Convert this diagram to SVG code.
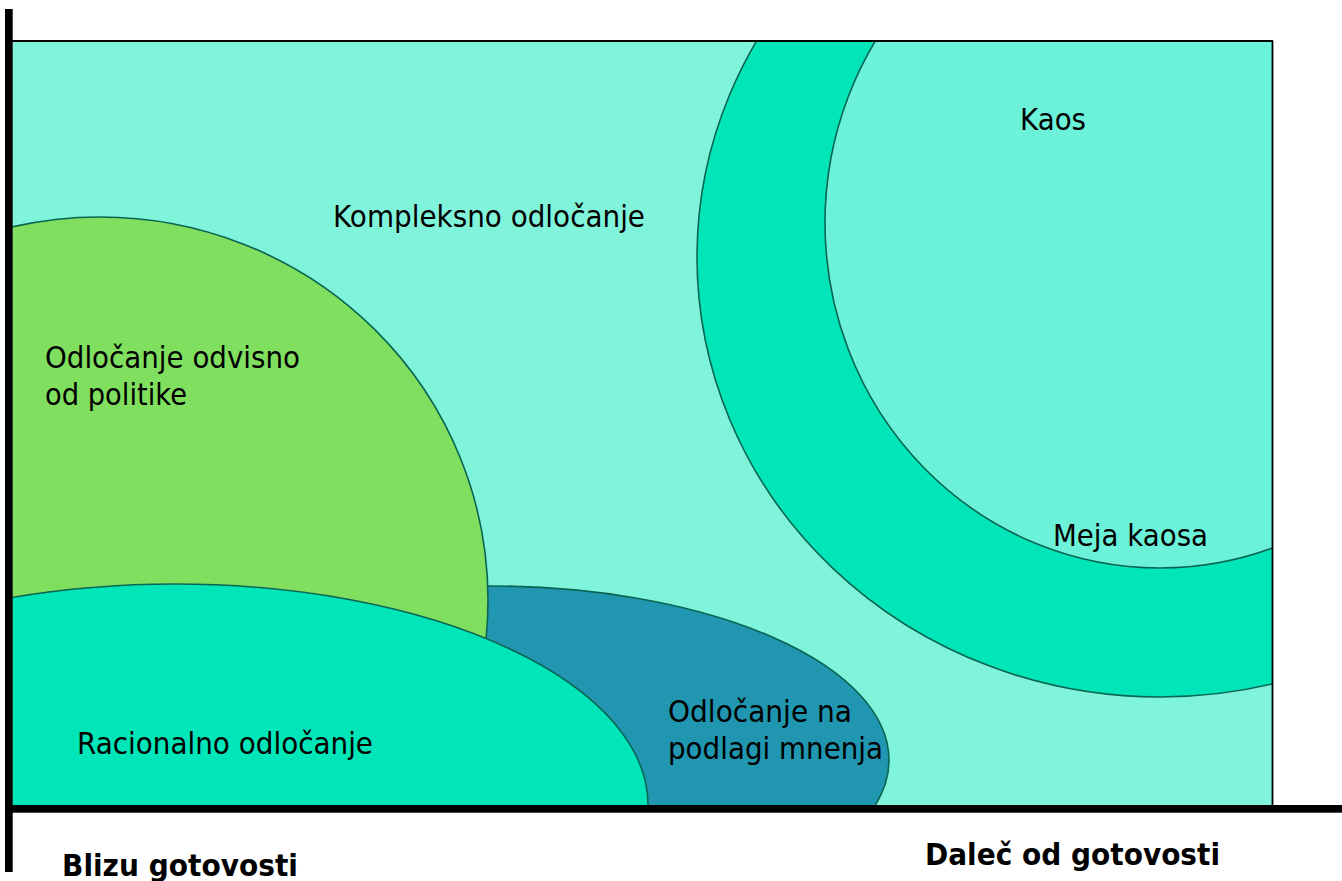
<svg xmlns="http://www.w3.org/2000/svg" width="1342" height="881" viewBox="0 0 1342 881">
<style>
.shape{stroke:#096552;stroke-width:1.6}
.lbl{font-family:"DejaVu Sans",Verdana,sans-serif;font-size:31px;fill:#000}
.axis{font-family:"DejaVu Sans",Verdana,sans-serif;font-size:30px;font-weight:bold;fill:#000}
</style>
<defs>
<clipPath id="plot"><rect x="12.5" y="41" width="1260" height="764"/></clipPath>
</defs>
<rect x="0" y="0" width="1342" height="881" fill="#ffffff"/>
<g id="background">
<rect x="12.5" y="41" width="1260" height="764" fill="#80f4da"/>
</g>
<g clip-path="url(#plot)">
<g id="meja-kaosa">
<ellipse class="shape" cx="1160" cy="257" rx="463" ry="440" fill="#00e6b8"/>
</g>
<g id="kaos">
<ellipse class="shape" cx="1160" cy="223" rx="335" ry="345" fill="#6cf2d8"/>
</g>
<g id="mnenje">
<ellipse class="shape" cx="490" cy="760" rx="399" ry="174" fill="#2196b0"/>
</g>
<g id="politika">
<ellipse class="shape" cx="100" cy="600" rx="388" ry="383" fill="#80df5e"/>
</g>
<g id="racionalno">
<ellipse class="shape" cx="175" cy="805" rx="473" ry="221" fill="#00e6b8"/>
</g>
</g>
<g id="frame">
<line x1="12" y1="41" x2="1273" y2="41" stroke="#000" stroke-width="1.8"/>
<line x1="1272.5" y1="41" x2="1272.5" y2="806" stroke="#000" stroke-width="1.8"/>
</g>
<g id="connectors">
<rect x="5" y="9" width="7.7" height="863" fill="#000"/>
<rect x="5" y="805" width="1337" height="7.7" fill="#000"/>
</g>
<g id="labels">
<text class="lbl" x="333" y="227" textLength="312" lengthAdjust="spacingAndGlyphs">Kompleksno odločanje</text>
<text class="lbl" x="45" y="368" textLength="255" lengthAdjust="spacingAndGlyphs">Odločanje odvisno</text>
<text class="lbl" x="45" y="405" textLength="142" lengthAdjust="spacingAndGlyphs">od politike</text>
<text class="lbl" x="77" y="754" textLength="296" lengthAdjust="spacingAndGlyphs">Racionalno odločanje</text>
<text class="lbl" x="668" y="722" textLength="184" lengthAdjust="spacingAndGlyphs">Odločanje na</text>
<text class="lbl" x="668" y="759" textLength="215" lengthAdjust="spacingAndGlyphs">podlagi mnenja</text>
<text class="lbl" x="1020" y="130" textLength="66" lengthAdjust="spacingAndGlyphs">Kaos</text>
<text class="lbl" x="1053" y="546" textLength="155" lengthAdjust="spacingAndGlyphs">Meja kaosa</text>
<text class="axis" x="62" y="876" textLength="236" lengthAdjust="spacingAndGlyphs">Blizu gotovosti</text>
<text class="axis" x="925" y="865" textLength="295" lengthAdjust="spacingAndGlyphs">Daleč od gotovosti</text>
</g>
</svg>
